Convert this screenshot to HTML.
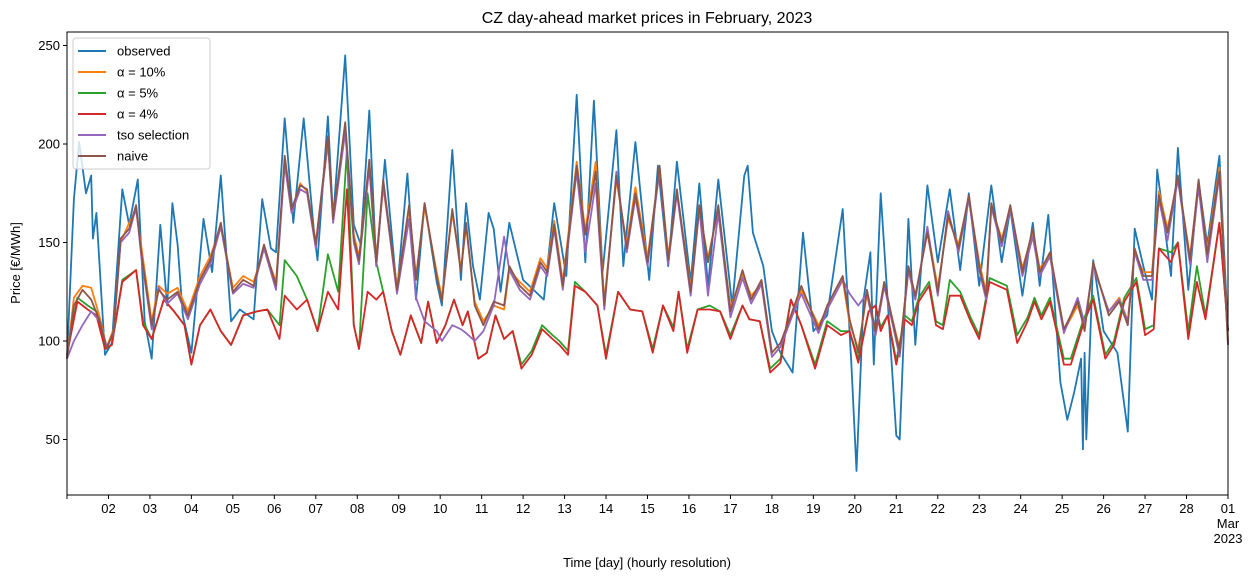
<!DOCTYPE html>
<html><head><meta charset="utf-8"><style>
body{margin:0;background:#fff;}
svg{display:block;font-family:"Liberation Sans","DejaVu Sans",sans-serif;}
</style></head><body>
<svg id="chart" width="1255" height="580" viewBox="0 0 1255 580" xmlns="http://www.w3.org/2000/svg">
<rect x="0" y="0" width="1255" height="580" fill="#fff"/>
<text x="647" y="23" text-anchor="middle" font-size="16" fill="#000">CZ day-ahead market prices in February, 2023</text>
<text transform="translate(20,263) rotate(-90)" text-anchor="middle" font-size="13" fill="#000">Price [€/MWh]</text>
<text x="647" y="567" text-anchor="middle" font-size="13" fill="#000">Time [day] (hourly resolution)</text>
<g id="series"></g>
<g id="axes"></g>
<g id="legend"></g>
</svg>
<script>
const obsT=[0,4,7,11,14,15,17,22,26,32,36,41,45,49,54,58,61,64,67,72,79,84,89,95,100,108,113,118,121,126,131,137,143,145,151,154,161,166,170,175,179,184,191,197,202,207,214,217,223,228,231,235,239,244,247,251,256,264,276,282,289,295,300,305,310,318,322,329,337,342,348,353,361,366,371,377,385,392,394,397,403,408,413,420,426,432,440,449,454,457,461,465,467,471,475,480,482,487,491,498,504,511,517,522,528,535,541,546,553,559,563,568,575,579,583,587,588,589,590,594,600,608,614,618,623,628,631,639,643,649,655,660,667,672];
const obsV=[91,172,201,175,184,152,165,93,99,177,159,182,110,91,159,118,170,149,113,94,162,135,184,110,116,111,172,147,145,213,160,213,155,141,214,162,245,159,149,217,138,192,125,185,121,170,130,118,197,131,170,138,121,165,157,125,160,131,121,170,133,225,140,222,135,207,138,201,131,189,138,191,130,180,128,182,118,184,189,155,138,105,94,84,155,105,113,167,88,34,121,145,88,175,121,52,50,162,98,179,140,177,136,175,128,179,140,167,123,160,128,164,79,60,74,91,45,94,50,141,105,94,54,157,138,121,187,133,198,126,181,149,194,105];
const naiveT=[0,4,9,14,19,23,27,31,36,40,43,49,53,58,64,70,77,83,89,96,102,108,114,121,126,130,135,139,144,151,154,161,166,169,175,179,183,191,198,202,207,214,217,223,228,231,236,241,247,253,256,262,268,274,278,282,287,295,300,306,311,318,324,329,336,343,348,353,361,366,371,377,384,391,396,402,408,413,419,425,435,440,449,453,458,463,468,473,482,487,491,498,504,510,516,522,528,532,535,541,546,553,559,563,569,577,585,589,594,603,609,614,618,623,628,632,637,643,650,655,660,667,672];
const naiveV=[91,118,126,121,110,96,105,152,157,169,145,108,126,121,125,113,131,141,160,125,131,128,149,128,194,167,179,177,149,204,162,211,152,141,192,140,182,126,169,131,170,133,120,167,135,160,118,108,120,118,138,128,123,140,135,159,128,189,154,186,118,184,147,175,140,189,141,177,125,169,140,169,115,136,121,131,94,99,113,128,106,118,133,111,94,126,105,130,94,138,123,155,125,164,147,174,138,123,170,150,169,135,157,135,145,106,120,105,140,113,120,108,147,133,133,174,155,184,141,182,144,186,98];
const alpha10V=[91,122,128,127,112,97,106,150,160,166,148,110,128,124,127,115,133,143,158,127,133,130,147,130,190,165,180,176,150,200,163,208,154,143,190,142,178,128,167,133,168,135,122,165,137,158,120,110,118,116,136,130,125,142,137,161,130,191,156,191,120,182,149,178,142,188,143,175,127,167,142,167,117,134,123,129,92,97,111,126,108,116,131,109,96,124,103,128,96,136,121,157,127,162,149,172,140,125,168,152,167,137,155,137,143,105,118,107,138,115,122,110,145,135,135,176,157,182,143,180,146,188,100];
const tsoV=[91,100,108,115,110,97,104,150,155,168,143,106,127,119,124,111,129,139,158,124,129,127,147,126,190,165,177,175,147,202,160,206,150,139,188,138,180,124,162,122,110,105,100,108,106,104,100,105,118,153,136,126,121,138,133,157,126,186,145,180,116,186,145,173,138,187,139,175,123,167,123,165,112,132,119,129,92,97,111,124,104,116,131,124,118,124,103,128,92,136,121,158,123,166,145,172,136,121,168,148,167,133,153,133,143,104,122,109,138,115,121,110,145,131,131,172,151,182,139,178,140,184,98];
const redT=[0,6,12,17,22,26,32,40,44,49,56,62,68,72,77,83,89,95,102,110,116,123,126,133,139,145,151,157,162,166,169,174,179,183,188,193,199,205,209,214,219,224,229,232,238,243,248,253,258,263,269,275,281,285,290,294,300,307,312,319,326,333,339,345,351,354,359,365,372,378,384,391,395,401,407,413,419,425,433,440,448,453,458,464,468,471,475,480,485,489,493,499,503,507,511,517,523,528,534,544,550,556,560,564,569,577,581,588,594,601,606,612,619,624,629,632,639,643,649,654,659,667,672];
const redV=[93,120,116,113,96,98,130,136,108,101,121,115,108,88,108,116,105,98,113,115,116,101,123,116,121,105,125,116,177,108,96,125,121,125,105,93,113,99,120,99,108,121,108,115,91,94,113,101,105,86,93,106,101,98,93,128,125,118,91,125,116,115,94,118,105,125,94,116,116,115,101,118,111,110,84,89,121,108,86,108,103,105,89,115,118,105,113,88,111,108,120,128,108,106,123,123,110,101,130,126,99,110,120,111,120,88,88,108,121,91,98,120,130,103,106,147,140,150,101,130,111,160,105];
const alpha5V=[93,122,118,115,96,98,131,136,110,101,121,115,108,88,108,116,105,98,113,115,116,108,141,133,121,105,144,125,197,108,96,175,140,125,105,93,113,99,120,99,108,121,108,115,91,94,113,101,105,88,95,108,103,100,95,130,125,118,93,125,116,115,96,118,107,125,96,116,118,115,103,118,111,110,86,91,121,108,88,110,105,105,91,115,118,107,113,90,113,110,122,130,110,108,131,125,112,103,132,128,103,112,122,113,122,91,91,110,123,93,100,122,132,106,108,147,145,150,105,138,113,160,105];
const x0=67,x1=1228,yTop=32,yBot=495;
const xS=h=>x0+h/672*(x1-x0);
const yS=v=>341-(v-100)*1.97;
const NS='http://www.w3.org/2000/svg';
const ser=document.getElementById('series');
function line(ts,vs,color,name){
  const p=document.createElementNS(NS,'polyline');
  p.setAttribute('points',ts.map((t,i)=>xS(t).toFixed(1)+','+yS(vs[i]).toFixed(1)).join(' '));
  p.setAttribute('fill','none');p.setAttribute('stroke',color);p.setAttribute('stroke-width','1.8');p.setAttribute('stroke-linejoin','round');
  
  
  ser.appendChild(p);
}
line(obsT,obsV,'#1f77b4','observed-line');
line(naiveT,alpha10V,'#ff7f0e','alpha-10-line');
line(redT,alpha5V,'#2ca02c','alpha-5-line');
line(redT,redV,'#d62728','alpha-4-line');
line(naiveT,tsoV,'#9467bd','tso-selection-line');
line(naiveT,naiveV,'#8c564b','naive-line');
const ax=document.getElementById('axes');
function el(tag,attrs,txt){const e=document.createElementNS(NS,tag);for(const k in attrs)e.setAttribute(k,attrs[k]);if(txt!==undefined)e.textContent=txt;ax.appendChild(e);return e;}
const frame=el('rect',{x:x0,y:yTop,width:x1-x0,height:yBot-yTop,fill:'none',stroke:'#000','stroke-width':1});


const yTicks=[50,100,150,200,250];
yTicks.forEach(v=>{
  const t=el('line',{x1:x0-4,x2:x0,y1:yS(v),y2:yS(v),stroke:'#000'});
  
  
  const l=el('text',{x:x0-7,y:yS(v)+4.5,'text-anchor':'end','font-size':13},String(v));
  
  
});
const dayLabels=['','02','03','04','05','06','07','08','09','10','11','12','13','14','15','16','17','18','19','20','21','22','23','24','25','26','27','28','01'];
dayLabels.forEach((d,i)=>{
  const x=xS(i*24);
  const t=el('line',{x1:x,x2:x,y1:yBot,y2:yBot+4,stroke:'#000'});
  
  
  if(d){const l=el('text',{x:x,y:yBot+18,'text-anchor':'middle','font-size':13},d);
  
  }
});
const m1=el('text',{x:x1,y:yBot+33,'text-anchor':'middle','font-size':13},'Mar');


const m2=el('text',{x:x1,y:yBot+48,'text-anchor':'middle','font-size':13},'2023');


const lg=document.getElementById('legend');
const lgNames=['observed','α = 10%','α = 5%','α = 4%','tso selection','naive'];
const lgColors=['#1f77b4','#ff7f0e','#2ca02c','#d62728','#9467bd','#8c564b'];
const box=document.createElementNS(NS,'rect');
box.setAttribute('x',73);box.setAttribute('y',38);box.setAttribute('width',137);box.setAttribute('height',131);box.setAttribute('rx',3);
box.setAttribute('fill','#fff');box.setAttribute('fill-opacity','0.8');box.setAttribute('stroke','#ccc');


lg.appendChild(box);
lgNames.forEach((n,i)=>{
  const y=51+i*21;
  const l=document.createElementNS(NS,'line');
  l.setAttribute('x1',78);l.setAttribute('x2',106);l.setAttribute('y1',y);l.setAttribute('y2',y);
  l.setAttribute('stroke',lgColors[i]);l.setAttribute('stroke-width',2);
  
  
  lg.appendChild(l);
  const t=document.createElementNS(NS,'text');
  t.setAttribute('x',117);t.setAttribute('y',y+4.5);t.setAttribute('font-size',13);
  t.textContent=n;
  
  
  lg.appendChild(t);
});
</script>
</body></html>
